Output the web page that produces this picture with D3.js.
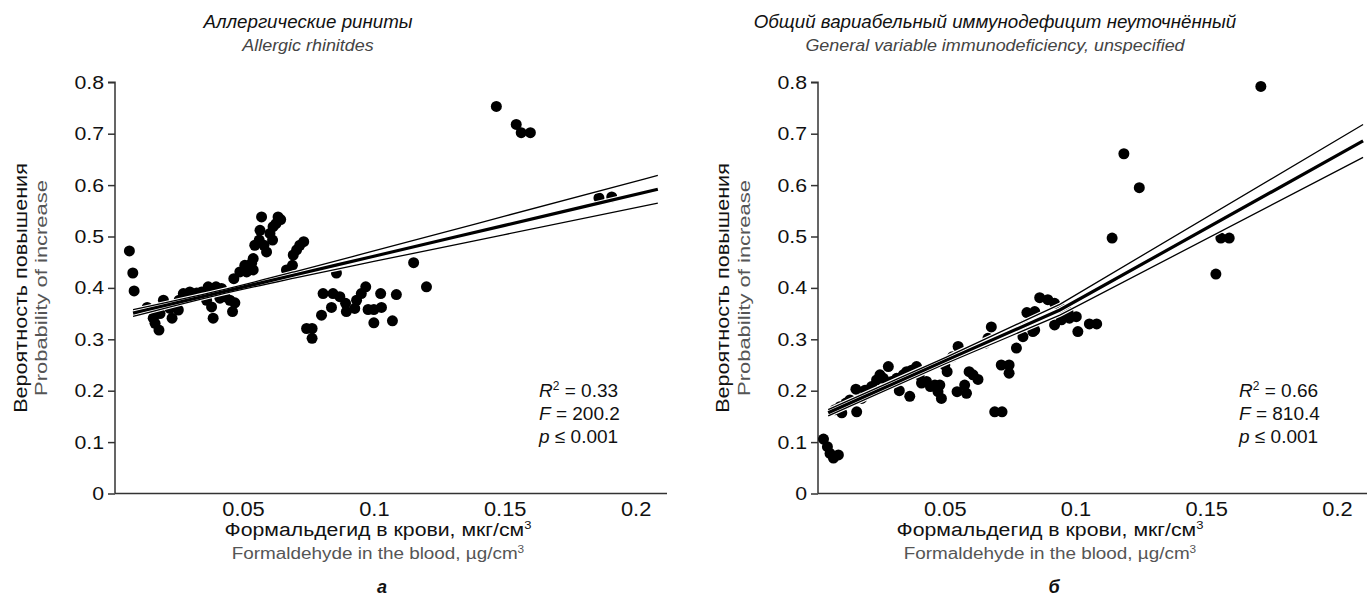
<!DOCTYPE html>
<html><head><meta charset="utf-8">
<script src="https://cdn.jsdelivr.net/npm/d3@7"></script>
<style>body{margin:0;background:#fff}svg{display:block}text{font-family:"Liberation Sans",Arial,sans-serif}</style>
</head><body><svg id="c" width="1368" height="611"></svg>
<script>
// ---------- data ----------
const xTicks = [0.05, 0.1, 0.15, 0.2];
const yTicks = [0, 0.1, 0.2, 0.3, 0.4, 0.5, 0.6, 0.7, 0.8];
const xTickLabels = ["0.05", "0.1", "0.15", "0.2"];
const yTickLabels = ["0", "0.1", "0.2", "0.3", "0.4", "0.5", "0.6", "0.7", "0.8"];

const pointsA = [
 [0.0066,0.472],[0.0079,0.429],[0.0084,0.394],[0.0134,0.362],[0.0157,0.341],[0.0164,0.331],[0.0179,0.318],
 [0.017,0.354],[0.0196,0.376],[0.0183,0.350],[0.0229,0.341],[0.0221,0.360],[0.0253,0.357],[0.0256,0.376],
 [0.0272,0.389],[0.0297,0.392],[0.0323,0.390],[0.0342,0.392],[0.0367,0.402],[0.0361,0.376],[0.038,0.363],
 [0.0386,0.341],[0.0397,0.402],[0.0418,0.399],[0.0412,0.380],[0.0431,0.383],[0.045,0.376],[0.046,0.354],
 [0.0469,0.371],[0.0465,0.418],[0.0488,0.431],[0.0514,0.431],[0.0507,0.444],[0.0533,0.448],[0.0539,0.457],
 [0.0539,0.435],[0.0545,0.483],[0.0562,0.493],[0.0565,0.512],[0.0571,0.538],[0.058,0.483],[0.059,0.470],
 [0.0603,0.506],[0.0613,0.493],[0.0615,0.519],[0.0626,0.525],[0.0634,0.538],[0.0644,0.533],[0.0666,0.435],
 [0.0689,0.444],[0.0692,0.464],[0.0705,0.474],[0.0717,0.483],[0.0732,0.490],[0.0743,0.321],[0.0764,0.321],
 [0.0764,0.302],[0.080,0.347],[0.0806,0.389],[0.0838,0.362],[0.0857,0.429],[0.0844,0.389],[0.087,0.383],
 [0.0892,0.370],[0.0895,0.354],[0.0927,0.360],[0.0934,0.376],[0.0952,0.389],[0.0969,0.402],[0.0978,0.358],
 [0.100,0.358],[0.100,0.332],[0.1026,0.389],[0.1029,0.362],[0.1071,0.336],[0.1086,0.387],[0.1152,0.449],
 [0.1201,0.402],[0.1468,0.753],[0.1544,0.718],[0.1563,0.702],[0.1598,0.702],[0.186,0.575],[0.1909,0.577]
];
const fitA   = [[0.008,0.351],[0.04,0.3896],[0.07,0.4256],[0.1,0.4617],[0.15,0.5217],[0.2085,0.5919]];
const upperA = [[0.008,0.3575],[0.04,0.3936],[0.07,0.4318],[0.1,0.472],[0.15,0.5396],[0.2085,0.6189]];
const lowerA = [[0.008,0.3445],[0.04,0.3856],[0.07,0.4194],[0.1,0.4514],[0.15,0.5038],[0.2085,0.5649]];

const pointsB = [
 [0.0036,0.106],[0.0051,0.091],[0.0061,0.078],[0.0074,0.069],[0.0093,0.075],[0.008,0.163],[0.0099,0.169],
 [0.0106,0.157],[0.0122,0.176],[0.0137,0.182],[0.0163,0.159],[0.016,0.203],[0.0182,0.185],[0.0195,0.201],
 [0.022,0.208],[0.0239,0.221],[0.0252,0.231],[0.0265,0.224],[0.0284,0.247],[0.0297,0.218],[0.0316,0.224],
 [0.0326,0.200],[0.0341,0.231],[0.0354,0.237],[0.0366,0.189],[0.0373,0.240],[0.0392,0.247],[0.0402,0.231],
 [0.0411,0.215],[0.043,0.218],[0.0445,0.208],[0.0462,0.211],[0.0474,0.198],[0.0487,0.185],[0.0481,0.211],
 [0.050,0.250],[0.0509,0.237],[0.0529,0.266],[0.0551,0.286],[0.0547,0.198],[0.0576,0.211],[0.0583,0.195],
 [0.0593,0.237],[0.0608,0.231],[0.0627,0.222],[0.0653,0.292],[0.0665,0.302],[0.0678,0.324],[0.0691,0.159],
 [0.0719,0.159],[0.0716,0.250],[0.0746,0.250],[0.0746,0.234],[0.0774,0.283],[0.0799,0.305],[0.0805,0.328],
 [0.0814,0.352],[0.0844,0.354],[0.0844,0.318],[0.0863,0.381],[0.0894,0.377],[0.092,0.370],[0.092,0.328],
 [0.0946,0.360],[0.0971,0.354],[0.0977,0.341],[0.1003,0.344],[0.0946,0.338],[0.1009,0.315],[0.1053,0.330],
 [0.1081,0.330],[0.0837,0.315],[0.1709,0.792],[0.1185,0.661],[0.1244,0.595],[0.114,0.497],[0.1556,0.497],
 [0.1588,0.497],[0.1537,0.427]
];
const fitB   = [[0.0054,0.157],[0.05,0.258],[0.094,0.357],[0.21,0.686]];
const upperB = [[0.0054,0.163],[0.05,0.264],[0.094,0.368],[0.21,0.718]];
const lowerB = [[0.0054,0.151],[0.05,0.252],[0.094,0.347],[0.21,0.654]];

const statsA = ["0.33", "200.2", "0.001"];
const statsB = ["0.66", "810.4", "0.001"];
const titlesRu = ["Аллергические риниты", "Общий вариабельный иммунодефицит неуточнённый"];
const titlesEn = ["Allergic rhinitdes", "General variable immunodeficiency, unspecified"];
const panelLetters = ["а", "б"];
const yLabelRu = "Вероятность повышения";
const yLabelEn = "Probability of increase";
const xLabelRu = "Формальдегид в крови, мкг/см";
const xLabelEn = "Formaldehyde in the blood, µg/cm";

// ---------- drawing ----------
const svg = d3.select("#c");
function stretch(sel, f) {
  sel.each(function () {
    const L = this.getComputedTextLength();
    this.setAttribute("textLength", L * f);
    this.setAttribute("lengthAdjust", "spacingAndGlyphs");
  });
}

const panels = [
  {pts: pointsA, fit: fitA, up: upperA, lo: lowerA, stats: statsA, xr: [115, 667], xd: [0.0011, 0.212],
   titleX: 308, xLabX: 378, yLab1: 27, yLab2: 47, statX: 539, curve: d3.curveMonotoneX},
  {pts: pointsB, fit: fitB, up: upperB, lo: lowerB, stats: statsB, xr: [818, 1367], xd: [0.0015, 0.2115],
   titleX: 995, xLabX: 1050, yLab1: 729, yLab2: 750, statX: 1239, curve: d3.curveLinear}
];

panels.forEach((p, i) => {
  const x = d3.scaleLinear().domain(p.xd).range(p.xr);
  const y = d3.scaleLinear().domain([0, 0.8]).range([493.5, 82.3]);
  const g = svg.append("g");

  // axes
  const yAxis = g.append("g").attr("transform", `translate(${p.xr[0]},0)`)
    .call(d3.axisLeft(y).tickValues(yTicks).tickFormat((d, k) => yTickLabels[k]).tickSize(7).tickPadding(4));
  yAxis.select(".domain").attr("stroke", "#333").attr("stroke-width", 1.5).attr("d", `M-7,${y(0.8)}H0V${y(0)}`);
  yAxis.selectAll(".tick line").attr("stroke", "#333").attr("stroke-width", 1.5);
  yAxis.selectAll(".tick text").attr("class", "tk").attr("font-size", 19).attr("fill", "#111").attr("font-family", null);

  const xAxis = g.append("g").attr("transform", `translate(0,${y(0)})`)
    .call(d3.axisBottom(x).tickValues(xTicks).tickFormat((d, k) => xTickLabels[k]).tickSize(0).tickPadding(9));
  xAxis.select(".domain").attr("stroke", "#333").attr("stroke-width", 1.5).attr("d", `M${p.xr[0]},0H${p.xr[1]}`);
  xAxis.selectAll(".tick text").attr("class", "tk").attr("font-size", 19.5).attr("fill", "#111").attr("font-family", null);

  // points
  g.append("g").selectAll("circle").data(p.pts).join("circle")
    .attr("cx", d => x(d[0])).attr("cy", d => y(d[1])).attr("r", 5.5).attr("fill", "#000");

  // regression lines with white halos
  const line = d3.line().x(d => x(d[0])).y(d => y(d[1])).curve(p.curve);
  const lines = [{d: p.up, w: 1.3}, {d: p.lo, w: 1.3}, {d: p.fit, w: 3.2}];
  lines.forEach(l => g.append("path").attr("d", line(l.d)).attr("fill", "none")
    .attr("stroke", "#fff").attr("stroke-width", l.w + 2.4));
  lines.forEach(l => g.append("path").attr("d", line(l.d)).attr("fill", "none")
    .attr("stroke", "#000").attr("stroke-width", l.w));

  // stats
  const st = g.append("g").attr("font-size", 19).attr("fill", "#111");
  const t1 = st.append("text").attr("x", p.statX).attr("y", 397);
  t1.append("tspan").attr("font-style", "italic").text("R");
  t1.append("tspan").attr("font-size", 12).attr("dy", -7).text("2");
  t1.append("tspan").attr("dy", 7).text(" = " + p.stats[0]);
  const t2 = st.append("text").attr("x", p.statX).attr("y", 420);
  t2.append("tspan").attr("font-style", "italic").text("F");
  t2.append("tspan").text(" = " + p.stats[1]);
  const t3 = st.append("text").attr("x", p.statX).attr("y", 443);
  t3.append("tspan").attr("font-style", "italic").text("p");
  t3.append("tspan").text(" ≤ " + p.stats[2]);

  // titles
  g.append("text").attr("class", "ti1").attr("x", p.titleX).attr("y", 28).attr("text-anchor", "middle")
    .attr("font-size", 18).attr("font-style", "italic").attr("fill", "#111").text(titlesRu[i]);
  g.append("text").attr("class", "ti2").attr("x", p.titleX).attr("y", 51).attr("text-anchor", "middle")
    .attr("font-size", 16).attr("font-style", "italic").attr("fill", "#444").text(titlesEn[i]);

  // y labels
  const yc = 288;
  g.append("text").attr("class", "yl1").attr("transform", `translate(${p.yLab1},${yc}) rotate(-90)`)
    .attr("text-anchor", "middle").attr("font-size", 18).attr("fill", "#111").text(yLabelRu);
  g.append("text").attr("class", "yl2").attr("transform", `translate(${p.yLab2},${yc}) rotate(-90)`)
    .attr("text-anchor", "middle").attr("font-size", 16.5).attr("fill", "#555").text(yLabelEn);

  // x labels
  const xl1 = g.append("text").attr("class", "xl").attr("x", p.xLabX).attr("y", 536).attr("text-anchor", "middle")
    .attr("font-size", 18).attr("fill", "#111");
  xl1.append("tspan").text(xLabelRu);
  xl1.append("tspan").attr("font-size", 11).attr("dy", -7).text("3");
  const xl2 = g.append("text").attr("class", "xl").attr("x", p.xLabX).attr("y", 559).attr("text-anchor", "middle")
    .attr("font-size", 16).attr("fill", "#555");
  xl2.append("tspan").text(xLabelEn);
  xl2.append("tspan").attr("font-size", 10).attr("dy", -6).text("3");

  g.append("text").attr("x", p.xLabX + 4).attr("y", 593).attr("text-anchor", "middle")
    .attr("font-size", 18).attr("font-weight", "bold").attr("font-style", "italic").attr("fill", "#111")
    .text(panelLetters[i]);
});

stretch(svg.selectAll("text.ti1"), 1.04);
stretch(svg.selectAll("text.ti2"), 1.12);
stretch(svg.selectAll("text.yl1"), 1.2);
stretch(svg.selectAll("text.yl2"), 1.33);
stretch(svg.selectAll("text.xl"), 1.18);
stretch(svg.selectAll("text.tk"), 1.12);
</script></body></html>
